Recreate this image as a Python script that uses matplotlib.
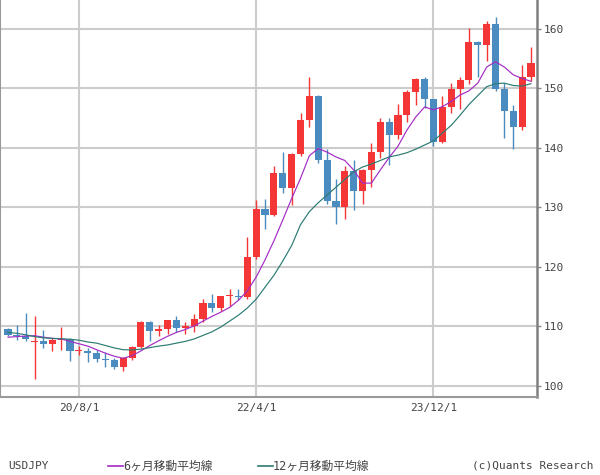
import matplotlib
matplotlib.use("Agg")
import matplotlib.pyplot as plt
from matplotlib.lines import Line2D

plt.rcParams['font.family'] = ['DejaVu Sans Mono', 'Noto Sans CJK JP']

# Monthly candles Dec 2019 .. Nov 2024
months = ["2019-12", "2020-01", "2020-02", "2020-03", "2020-04", "2020-05", "2020-06", "2020-07",
          "2020-08", "2020-09", "2020-10", "2020-11", "2020-12", "2021-01", "2021-02", "2021-03",
          "2021-04", "2021-05", "2021-06", "2021-07", "2021-08", "2021-09", "2021-10", "2021-11",
          "2021-12", "2022-01", "2022-02", "2022-03", "2022-04", "2022-05", "2022-06", "2022-07",
          "2022-08", "2022-09", "2022-10", "2022-11", "2022-12", "2023-01", "2023-02", "2023-03",
          "2023-04", "2023-05", "2023-06", "2023-07", "2023-08", "2023-09", "2023-10", "2023-11",
          "2023-12", "2024-01", "2024-02", "2024-03", "2024-04", "2024-05", "2024-06", "2024-07",
          "2024-08", "2024-09", "2024-10", "2024-11"]

opens = [109.6, 108.65, 108.4, 107.35, 107.55, 107.0, 107.65, 107.9,
         105.85, 105.95, 105.55, 104.6, 104.3, 103.2, 104.65, 106.55,
         110.75, 109.3, 109.6, 111.05, 109.7, 110.0, 111.3, 114.0,
         113.1, 115.05, 115.15, 114.95, 121.7, 129.8, 128.7, 135.75,
         133.3, 138.95, 144.7, 148.7, 138.05, 131.1, 130.05, 136.2,
         132.8, 136.3, 139.3, 144.3, 142.1, 145.5, 149.4, 151.6,
         148.2, 141.0, 146.9, 149.95, 151.35, 157.8, 157.25, 160.85,
         149.95, 146.2, 143.6, 152.0]
highs = [109.75, 110.3, 112.2, 111.7, 109.4, 108.1, 109.85, 108.1,
         106.7, 106.4, 106.1, 105.7, 104.75, 104.95, 106.7, 110.95,
         110.95, 110.2, 111.1, 111.7, 110.8, 112.1, 114.7, 115.5,
         115.2, 116.35, 116.3, 125.1, 131.25, 131.35, 137.0, 139.4,
         139.1, 145.9, 151.95, 148.85, 139.9, 134.8, 136.9, 137.9,
         136.55, 140.9, 145.05, 145.1, 147.4, 149.7, 151.75, 151.95,
         148.3, 148.8, 150.9, 151.97, 160.2, 157.99, 161.3, 161.95,
         150.85, 147.2, 153.9, 156.9]
lows = [108.4, 107.65, 107.6, 101.2, 106.35, 105.95, 106.1, 104.2,
        105.2, 104.0, 104.0, 103.2, 102.9, 102.6, 104.4, 106.35,
        107.5, 108.35, 108.8, 109.1, 108.7, 109.1, 110.8, 112.5,
        112.6, 113.5, 114.4, 114.65, 121.3, 126.4, 128.65, 132.5,
        130.4, 138.7, 143.5, 137.5, 130.55, 127.2, 128.1, 129.65,
        130.6, 133.4, 138.4, 137.2, 141.5, 144.4, 147.3, 146.8,
        140.4, 140.8, 145.9, 146.5, 150.8, 151.85, 154.55, 149.6,
        141.7, 139.8, 142.95, 151.3]
closes = [108.65, 108.4, 107.95, 107.55, 107.0, 107.8, 107.9, 105.85,
          105.95, 105.5, 104.6, 104.3, 103.25, 104.65, 106.55, 110.7,
          109.3, 109.6, 111.05, 109.7, 110.0, 111.3, 114.0, 113.1,
          115.1, 115.15, 114.95, 121.7, 129.8, 128.7, 135.75, 133.3,
          138.95, 144.7, 148.7, 138.05, 131.1, 130.05, 136.2, 132.8,
          136.3, 139.3, 144.3, 142.1, 145.5, 149.4, 151.6, 148.2,
          141.0, 146.9, 149.95, 151.35, 157.8, 157.25, 160.85, 149.95,
          146.2, 143.6, 152.0, 154.3]

# Moving averages read at each month
ma6 = [108.2, 108.3, 108.4, 108.45, 108.2, 108.0, 107.9, 107.5,
       107.1, 106.7, 106.1, 105.5, 105.0, 104.65, 105.1, 105.9,
       106.8, 107.6, 108.35, 109.0, 109.5, 110.1, 110.9, 111.7,
       112.4, 113.2, 114.4, 116.0, 118.3, 121.2, 124.4, 127.9,
       131.5, 134.9, 138.7, 139.9, 139.3, 138.5, 137.9, 136.3,
       134.1, 134.1, 136.3, 138.4, 140.3, 143.0, 145.2, 146.9,
       146.4, 146.95, 147.8, 148.9, 149.6, 150.9, 153.6, 154.5,
       153.6, 152.3, 151.7, 151.2]
ma12 = [109.0, 108.85, 108.6, 108.3, 108.1, 108.0, 107.95, 107.85,
        107.7, 107.4, 107.2, 106.8, 106.4, 106.1, 106.05, 106.2,
        106.45, 106.7, 106.9, 107.2, 107.5, 107.9, 108.5, 109.1,
        109.9, 110.9, 111.9, 113.1, 114.6, 116.6, 118.6, 121.0,
        123.6, 127.1, 129.3, 130.8, 132.1, 133.4, 134.7, 136.0,
        136.8, 137.3, 137.9, 138.5, 138.8, 139.2, 139.8, 140.5,
        141.2, 142.5, 143.8, 145.5, 147.3, 148.8, 150.3, 150.8,
        150.9, 150.5, 150.4, 150.8]

tick_idx = [8, 28, 48]
tick_labels = ["20/8/1", "22/4/1", "23/12/1"]
yticks = [100, 110, 120, 130, 140, 150, 160]

UP = '#f53636'
DOWN = '#4b8cc0'
C6 = '#a32bc4'
C12 = '#2b7b72'
TXT = '#444444'

fig = plt.figure(figsize=(6, 4.75), dpi=100)
ax = fig.add_axes([0.0, 1 - 397 / 475, 537 / 600, 397 / 475])

x = list(range(len(months)))
for i in x:
    o, h, l, c = opens[i], highs[i], lows[i], closes[i]
    col = UP if c >= o else DOWN
    ax.vlines(i, l, h, color=col, lw=1.0, zorder=3)
    bot = min(o, c)
    ht = max(abs(c - o), 0.2)
    ax.bar(i, ht, bottom=bot, width=0.8, color=col, linewidth=0, zorder=3)

ax.plot(x, ma6, color=C6, lw=0.85, zorder=4)
ax.plot(x, ma12, color=C12, lw=0.85, zorder=4)

ax.set_xlim(-0.9, 59.68)
ax.set_ylim(98.15, 164.87)

ax.set_yticks(yticks)
ax.yaxis.tick_right()
ax.tick_params(axis='y', direction='out', length=3, width=1, color='#888888',
               labelsize=8, labelcolor=TXT, pad=2)
ax.set_xticks(tick_idx)
ax.set_xticklabels(tick_labels)
ax.tick_params(axis='x', length=0, labelsize=8, labelcolor=TXT, pad=4)

ax.grid(True, color='#cccccc', lw=1.5, zorder=0)
ax.set_axisbelow(True)
for s in ['left', 'bottom']:
    ax.spines[s].set_color('#999999')
    ax.spines[s].set_linewidth(1.5)
ax.spines['right'].set_color('#808080')
ax.spines['right'].set_linewidth(1.8)
ax.spines['top'].set_visible(False)

# bottom legend/caption
ly = 1 - 466 / 475
fig.text(8 / 600, ly, "USDJPY", fontsize=8, color=TXT, va='center', ha='left')
fig.add_artist(Line2D([108 / 600, 123 / 600], [ly, ly], color=C6, lw=1.2))
fig.text(123 / 600, ly, "6ヶ月移動平均線", fontsize=8.5, color=TXT, va='center', ha='left')
fig.add_artist(Line2D([258 / 600, 273 / 600], [ly, ly], color=C12, lw=1.2))
fig.text(273 / 600, ly, "12ヶ月移動平均線", fontsize=8.5, color=TXT, va='center', ha='left')
fig.text(593 / 600, ly, "(c)Quants Research", fontsize=8, color=TXT, va='center', ha='right')

fig.savefig("out.png", dpi=100, facecolor='white')
